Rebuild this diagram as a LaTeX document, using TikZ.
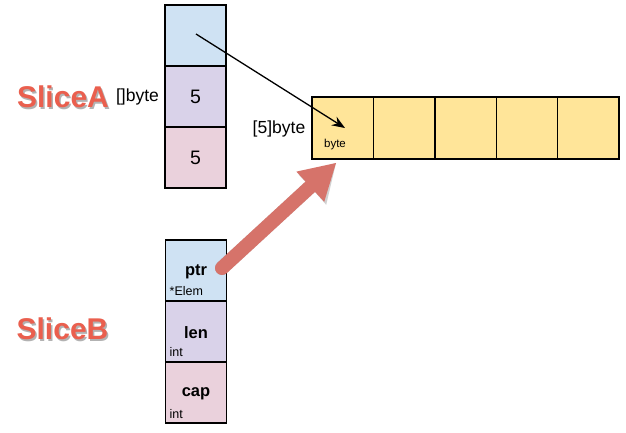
\documentclass[tikz,border=0pt]{standalone}
\usepackage{fontspec}
\setmainfont{Liberation Sans}
\usetikzlibrary{arrows.meta}
\definecolor{cblue}{HTML}{CFE2F3}
\definecolor{cpurple}{HTML}{D9D2E9}
\definecolor{cpink}{HTML}{EAD1DC}
\definecolor{cyellow}{HTML}{FFE599}
\definecolor{coral}{HTML}{EA5F4E}
\definecolor{redarrow}{HTML}{D6736A}
\newcommand{\fsz}[1]{\fontsize{#1}{#1}\selectfont}
\newcommand{\shadowtext}[1]{\makebox[0pt][l]{\hspace{1.5pt}\raisebox{-2.5pt}{\textcolor{black!30}{#1}}}\textcolor{coral}{#1}}
\tikzset{
  cell/.style={draw=black, line width=1.4pt, minimum width=61pt, minimum height=61pt, inner sep=0pt},
  acell/.style={draw=black, line width=1.4pt, fill=cyellow, minimum width=61.4pt, minimum height=62pt, inner sep=0pt},
  title/.style={font=\fsz{30}\bfseries, inner sep=0pt},
  typelbl/.style={font=\fsz{17.5}, inner sep=0pt},
  val/.style={font=\fsz{19.5}, inner sep=0pt},
  fld/.style={font=\fsz{16.5}\bfseries, inner sep=0pt},
  sub/.style={font=\fsz{12.5}, inner sep=0pt, anchor=west},
}
\begin{document}
\begin{tikzpicture}[x=1pt,y=-1pt]
\useasboundingbox (0,0) rectangle (626,432);
\fill[white] (0,0) rectangle (626,432);
% Slice A
\node[cell, fill=cblue] (a1) at (195.5,35.5) {};
\node[cell, fill=cpurple] (a2) at (195.5,96.5) {};
\node[cell, fill=cpink] (a3) at (195.5,157.5) {};
\node[val] (a2v) at (195.5,97) {5};
\node[val] (a3v) at (195.5,158) {5};
\node[title] (sa) at (63,98) {\shadowtext{SliceA}};
\node[typelbl] (sat) at (137.5,97) {[]byte};
% Array
\node[acell] (b1) at (342.7,128) {};
\node[acell] (b2) at (404.1,128) {};
\node[acell] (b3) at (465.5,128) {};
\node[acell] (b4) at (526.9,128) {};
\node[acell] (b5) at (588.3,128) {};
\node[font=\fsz{11.5}, inner sep=0pt] (b1t) at (335,144.5) {byte};
\node[typelbl] (arrt) at (279,129) {[5]byte};
% Slice B
\node[cell, fill=cblue] (c1) at (196,270.5) {};
\node[cell, fill=cpurple] (c2) at (196,331.5) {};
\node[cell, fill=cpink] (c3) at (196,392.5) {};
\node[fld] (c1f) at (196,272) {ptr};
\node[sub] (c1s) at (169.5,291) {*Elem};
\node[fld] (c2f) at (196,333) {len};
\node[sub] (c2s) at (169.5,352) {int};
\node[fld] (c3f) at (196,394) {cap};
\node[sub] (c3s) at (169.5,414) {int};
\node[title] (sb) at (62.5,330) {\shadowtext{SliceB}};
% black pointer arrow
\coordinate (pa) at (196,34);
\coordinate (pb) at (345,128);
\draw[line width=1.3pt, -{Stealth[length=13pt,width=10pt]}] (pa) -- (pb);
% red arrow
\coordinate (rs) at (222,268);
\coordinate (rb) at (310.3,186.7);
\coordinate (rt) at (336,163);
\begin{scope}[shift={(2,3)}, black, opacity=0.18]
\draw[line width=14pt, line cap=round] (rs) -- (rb);
\fill (rt) -- (324.2,201.8) -- (rb) -- (296.4,171.6) -- cycle;
\end{scope}
\draw[redarrow, line width=14pt, line cap=round] (rs) -- (rb);
\fill[redarrow] (rt) -- (324.2,201.8) -- (rb) -- (296.4,171.6) -- cycle;
\end{tikzpicture}
\end{document}
